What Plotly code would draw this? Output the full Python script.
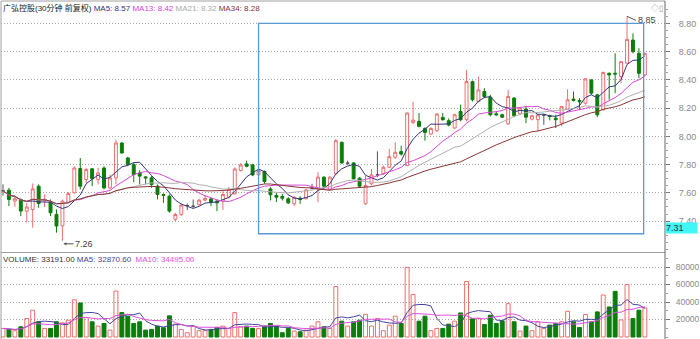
import numpy as np
import pandas as pd
import plotly.graph_objects as go

# ---------------- data ----------------
title_text = "广弘控股(30分钟 前复权)"
ma_labels = ["MA5: 8.57", "MA13: 8.42", "MA21: 8.32", "MA34: 8.28"]
vol_labels = ["VOLUME: 33191.00", "MA5: 32870.60", "MA10: 34495.00"]

opens = [7.615, 7.619, 7.541, 7.553, 7.470, 7.482, 7.647, 7.545, 7.534, 7.447,
         7.365, 7.534, 7.600, 7.772, 7.694, 7.770, 7.694, 7.776, 7.635, 7.706,
         7.953, 7.847, 7.800, 7.741, 7.713, 7.706, 7.647, 7.588, 7.576, 7.412,
         7.447, 7.510, 7.505, 7.518, 7.548, 7.557, 7.541, 7.541, 7.570, 7.593,
         7.758, 7.805, 7.798, 7.727, 7.751, 7.628, 7.581, 7.574, 7.558, 7.522,
         7.562, 7.558, 7.632, 7.628, 7.711, 7.624, 7.734, 7.958, 7.810, 7.812,
         7.704, 7.522, 7.664, 7.727, 7.734, 7.781, 7.852, 7.892, 7.793, 8.099,
         8.106, 8.056, 8.016, 8.040, 8.134, 8.111, 8.059, 8.176, 8.118, 8.388,
         8.247, 8.318, 8.278, 8.160, 8.153, 8.089, 8.271, 8.160, 8.193, 8.122,
         8.118, 8.150, 8.146, 8.129, 8.094, 8.193, 8.264, 8.254, 8.235, 8.400,
         8.294, 8.188, 8.447, 8.447, 8.424, 8.518, 8.682, 8.588, 8.435]
highs = [7.660, 7.635, 7.576, 7.560, 7.530, 7.666, 7.660, 7.588, 7.553, 7.482,
         7.553, 7.605, 7.788, 7.847, 7.776, 7.776, 7.776, 7.788, 7.729, 7.976,
         7.958, 7.854, 7.812, 7.760, 7.718, 7.718, 7.659, 7.595, 7.588, 7.459,
         7.525, 7.525, 7.553, 7.557, 7.580, 7.565, 7.553, 7.612, 7.640, 7.780,
         7.812, 7.828, 7.805, 7.770, 7.758, 7.640, 7.600, 7.593, 7.569, 7.576,
         7.576, 7.628, 7.664, 7.746, 7.718, 7.718, 7.981, 7.962, 7.828, 7.816,
         7.711, 7.720, 7.769, 7.894, 7.793, 7.911, 7.958, 7.934, 8.169, 8.245,
         8.165, 8.064, 8.064, 8.165, 8.165, 8.127, 8.160, 8.224, 8.471, 8.395,
         8.424, 8.341, 8.294, 8.176, 8.160, 8.329, 8.278, 8.207, 8.212, 8.153,
         8.153, 8.160, 8.153, 8.153, 8.212, 8.334, 8.318, 8.271, 8.412, 8.405,
         8.301, 8.459, 8.452, 8.588, 8.529, 8.850, 8.729, 8.624, 8.593]
lows = [7.580, 7.506, 7.501, 7.435, 7.390, 7.353, 7.494, 7.500, 7.435, 7.318,
        7.260, 7.525, 7.595, 7.624, 7.670, 7.647, 7.659, 7.624, 7.624, 7.659,
        7.878, 7.788, 7.675, 7.659, 7.659, 7.635, 7.553, 7.529, 7.459, 7.400,
        7.435, 7.478, 7.494, 7.510, 7.540, 7.506, 7.470, 7.478, 7.560, 7.586,
        7.751, 7.781, 7.718, 7.720, 7.664, 7.546, 7.534, 7.546, 7.522, 7.506,
        7.522, 7.553, 7.624, 7.534, 7.633, 7.616, 7.727, 7.805, 7.798, 7.694,
        7.640, 7.515, 7.652, 7.711, 7.727, 7.774, 7.840, 7.864, 7.788, 8.087,
        8.064, 7.969, 8.009, 8.033, 8.111, 8.071, 8.052, 8.106, 8.106, 8.247,
        8.240, 8.271, 8.141, 8.146, 8.129, 8.082, 8.136, 8.153, 8.094, 8.113,
        8.035, 8.082, 8.113, 8.059, 8.071, 8.188, 8.247, 8.188, 8.224, 8.294,
        8.136, 8.184, 8.259, 8.306, 8.376, 8.518, 8.588, 8.412, 8.428]
closes = [7.615, 7.553, 7.558, 7.471, 7.500, 7.628, 7.525, 7.555, 7.459, 7.365,
          7.541, 7.595, 7.776, 7.647, 7.765, 7.700, 7.741, 7.635, 7.706, 7.953,
          7.882, 7.800, 7.729, 7.718, 7.706, 7.659, 7.588, 7.581, 7.471, 7.447,
          7.513, 7.510, 7.505, 7.548, 7.560, 7.534, 7.529, 7.588, 7.625, 7.769,
          7.798, 7.788, 7.727, 7.758, 7.680, 7.586, 7.569, 7.562, 7.529, 7.569,
          7.553, 7.621, 7.632, 7.711, 7.647, 7.711, 7.969, 7.812, 7.810, 7.699,
          7.647, 7.652, 7.727, 7.727, 7.781, 7.856, 7.887, 7.875, 8.165, 8.115,
          8.071, 8.028, 8.056, 8.158, 8.118, 8.080, 8.153, 8.118, 8.388, 8.259,
          8.329, 8.282, 8.153, 8.153, 8.136, 8.282, 8.146, 8.200, 8.136, 8.146,
          8.153, 8.150, 8.141, 8.118, 8.212, 8.259, 8.254, 8.245, 8.407, 8.306,
          8.153, 8.452, 8.435, 8.442, 8.529, 8.687, 8.600, 8.447, 8.588]
volumes = [9800, 8700, 7200, 11700, 21100, 30600, 17400, 9800, 9800, 17400,
           16200, 19200, 42600, 38900, 22300, 17400, 12500, 15500, 7900, 52500,
           27900, 23800, 15500, 17400, 7900, 8700, 12500, 10600, 24200, 14700,
           8700, 4900, 12500, 7200, 7200, 8700, 10900, 12500, 9800, 27900,
           11700, 12500, 9800, 9800, 12500, 15500, 12500, 4900, 9800, 6800,
           6000, 7900, 12500, 17400, 11700, 9800, 57700, 18100, 12500, 17400,
           19200, 26000, 12500, 21100, 7200, 13600, 23800, 15500, 79600, 48700,
           18100, 23800, 7200, 9800, 9800, 14700, 18100, 27500, 63400, 20800,
           21100, 14300, 24900, 15500, 18500, 38100, 17400, 6800, 12500, 7200,
           17400, 9800, 13600, 15500, 17400, 29400, 17400, 10900, 25700, 17400,
           28700, 48000, 34300, 52200, 19500, 60000, 21000, 30662, 33191]

price_ticks = [7.40, 7.60, 7.80, 8.00, 8.20, 8.40, 8.60, 8.80]
volume_ticks = [20000, 40000, 60000, 80000]
ma_periods = [5, 13, 21, 34]
vol_ma_periods = [5, 10]
box_start, box_end = 43, 107.8      # selection box (candle index)
box_low, box_high = 7.31, 8.80      # selection box (price)

# ---------------- styles ----------------
UP = "#ee6e6e"
DOWN = "#0b7d0b"
FLAT = "#555555"
MA_COLORS = ["#35357f", "#d848d8", "#b0b0b0", "#8b3535"]
LBL_COLORS = ["#2e2e8a", "#dd3ddd", "#aaaaaa", "#8b3030"]
VMA_COLORS = ["#4545a0", "#e050e0"]
FONT = "Liberation Sans, Noto Sans CJK SC, sans-serif"
GRID = "#a8a8a8"

o = np.array(opens); h = np.array(highs); l = np.array(lows); c = np.array(closes)
v = np.array(volumes, dtype=float)
n = len(c)
x = np.arange(n)
flat = np.isclose(o, c)
nf = ~flat

fig = go.Figure()

fig.add_trace(go.Candlestick(
    x=x[nf], open=o[nf], high=h[nf], low=l[nf], close=c[nf],
    increasing=dict(line=dict(color=UP, width=1), fillcolor="rgba(255,255,255,0)"),
    decreasing=dict(line=dict(color=DOWN, width=1), fillcolor=DOWN),
    whiskerwidth=0, xaxis="x", yaxis="y", hoverinfo="skip"))
fig.add_trace(go.Candlestick(
    x=x[flat], open=o[flat], high=h[flat], low=l[flat], close=c[flat],
    increasing=dict(line=dict(color=FLAT, width=1), fillcolor=FLAT),
    decreasing=dict(line=dict(color=FLAT, width=1), fillcolor=FLAT),
    whiskerwidth=0, xaxis="x", yaxis="y", hoverinfo="skip"))

cs = pd.Series(c)
for p, col in zip(ma_periods, MA_COLORS):
    fig.add_trace(go.Scatter(x=x, y=cs.rolling(p, min_periods=1).mean(), mode="lines",
                             line=dict(color=col, width=1), xaxis="x", yaxis="y",
                             hoverinfo="skip"))

upv = c >= o
fig.add_trace(go.Bar(
    x=x, y=v, width=0.66,
    marker=dict(color=["rgba(255,255,255,0)" if u else DOWN for u in upv],
                line=dict(color=[UP if u else DOWN for u in upv], width=1)),
    xaxis="x2", yaxis="y2", hoverinfo="skip"))
vs = pd.Series(v)
for p, col in zip(vol_ma_periods, VMA_COLORS):
    fig.add_trace(go.Scatter(x=x, y=vs.rolling(p, min_periods=1).mean(), mode="lines",
                             line=dict(color=col, width=1), xaxis="x2", yaxis="y2",
                             hoverinfo="skip"))

xr = [-0.335, 111.39]
axis_common = dict(showticklabels=False, showgrid=False, zeroline=False, ticks="",
                   range=xr, fixedrange=True)

fig.update_layout(
    width=700, height=339, margin=dict(l=1, r=32, t=1, b=0),
    paper_bgcolor="white", plot_bgcolor="white", showlegend=False,
    font=dict(family=FONT, size=9, color="#333"),
    xaxis=dict(domain=[0, 1], anchor="y", rangeslider=dict(visible=False), **axis_common),
    xaxis2=dict(domain=[0, 1], anchor="y2", matches="x", **axis_common),
    yaxis=dict(domain=[0.2633, 0.988], range=[7.195, 8.930], side="right",
               tickmode="array", tickvals=price_ticks,
               ticktext=[f"{t:.2f}" for t in price_ticks],
               tickfont=dict(size=9, color="#8a8a8a"), ticks="outside", ticklen=4,
               tickcolor="#777", ticklabelstandoff=7,
               minor=dict(ticks="outside", ticklen=2, tickcolor="#999", dtick=0.05,
                          tick0=0, showgrid=False),
               showgrid=True, gridcolor=GRID, griddash="1px,2px", gridwidth=1,
               zeroline=False, showline=False, fixedrange=True),
    yaxis2=dict(domain=[0, 0.2544], range=[-2286, 96000], side="right",
                tickmode="array", tickvals=volume_ticks,
                ticktext=[str(t) for t in volume_ticks],
                tickfont=dict(size=8.5, color="#8a8a8a"), ticks="outside", ticklen=4,
                tickcolor="#777", ticklabelstandoff=4,
                minor=dict(ticks="outside", ticklen=2, tickcolor="#999", dtick=10000,
                           tick0=0, showgrid=False),
                showgrid=True, gridcolor=GRID, griddash="1px,2px", gridwidth=1,
                zeroline=False, showline=False, fixedrange=True),
    bargap=0.3,
)

shapes = [
    dict(type="line", xref="paper", yref="paper", x0=0, x1=1, y0=1, y1=1,
         line=dict(color="#a0a0a0", width=1)),
    dict(type="line", xref="paper", yref="paper", x0=0, x1=1, y0=0.2559, y1=0.2559,
         line=dict(color="#a0a0a0", width=1)),
    dict(type="line", xref="paper", yref="paper", x0=0, x1=0, y0=0, y1=1,
         line=dict(color="#a0a0a0", width=1)),
    dict(type="line", xref="paper", yref="paper", x0=1, x1=1, y0=0, y1=1,
         line=dict(color="#666666", width=1)),
    dict(type="rect", xref="x", yref="y", x0=box_start, x1=box_end, y0=box_low, y1=box_high,
         line=dict(color="#5b9bd5", width=1.3), fillcolor="rgba(0,0,0,0)"),
]
fig.update_layout(shapes=shapes)

legend_html = title_text + " " + " ".join(
    f"<span style='color:{col}'>{t}</span>" for t, col in zip(ma_labels, LBL_COLORS))
vol_html = (f"<span style='color:#333'>{vol_labels[0]}</span> "
            f"<span style='color:{VMA_COLORS[0]}'>{vol_labels[1]}</span>  "
            f"<span style='color:{VMA_COLORS[1]}'>{vol_labels[2]}</span>")

imax = int(np.argmax(h)); imin = int(np.argmin(l))
annotations = [
    dict(xref="paper", yref="paper", x=0, y=0.978, xanchor="left", yanchor="middle",
         text=legend_html, showarrow=False, font=dict(size=8, color="#222", family=FONT)),
    dict(xref="paper", yref="paper", x=0, y=0.2358, xanchor="left", yanchor="middle",
         text=vol_html, showarrow=False, font=dict(size=8, color="#333", family=FONT)),
    dict(xref="paper", yref="paper", x=0.988, y=0.979, xanchor="center", yanchor="middle",
         text="◇▯", showarrow=False, font=dict(size=8, color="#999")),
    dict(xref="x", yref="y", x=imax, y=h[imax], text=f"{h[imax]:.2f}", showarrow=True,
         ax=9, ay=4, xanchor="left", yanchor="middle", arrowhead=0, arrowwidth=1,
         arrowcolor="#555", font=dict(size=9, color="#444")),
    dict(xref="x", yref="y", x=imin, y=l[imin], yshift=-3, xshift=1, text=f"{l[imin]:.2f}",
         showarrow=True, ax=10, ay=0, xanchor="left", yanchor="middle", arrowhead=2,
         arrowsize=0.6, arrowwidth=1, arrowcolor="#555", font=dict(size=9, color="#444")),
    dict(xref="paper", yref="y", x=1, y=box_low, xanchor="left", yanchor="bottom",
         text=f"{box_low:.2f}", showarrow=False, bgcolor="#3ff7f7", width=31, align="left",
         borderpad=0, font=dict(size=9, color="#333")),
]
fig.update_layout(annotations=annotations)

fig.write_html("out.html")
